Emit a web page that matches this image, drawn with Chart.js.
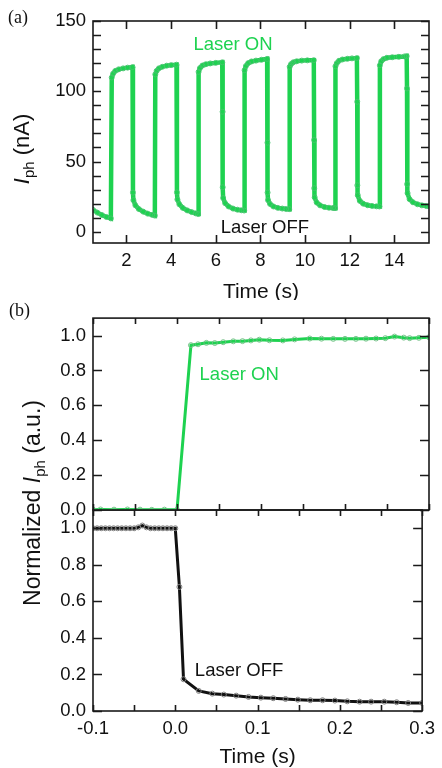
<!DOCTYPE html>
<html>
<head>
<meta charset="utf-8">
<script src="https://cdn.jsdelivr.net/npm/chart.js@4.4.0/dist/chart.umd.min.js"></script>
<style>
  html, body { margin: 0; padding: 0; background: #fff; }
  .caja { position: absolute; left: 0; width: 442px; }
</style>
</head>
<body>
<div class="caja" style="top:0;height:300px"><canvas id="graficoA"></canvas></div>
<div class="caja" style="top:300px;height:468px"><canvas id="graficoOff"></canvas></div>
<div class="caja" style="top:300px;height:230px"><canvas id="graficoOn"></canvas></div>
<script>
// (a) photocurrent, laser switched on/off
var tiempoA = [
  0.5, 0.7, 0.9, 1.1, 1.3,
  1.34, 1.4, 1.5, 1.65, 1.85, 2.05, 2.27,
  2.29, 2.31, 2.4, 2.55, 2.75, 2.95, 3.15, 3.27,
  3.29, 3.35, 3.45, 3.6, 3.8, 4.0, 4.24,
  4.26, 4.28, 4.37, 4.52, 4.72, 4.92, 5.1, 5.21,
  5.23, 5.29, 5.4, 5.55, 5.75, 6.0, 6.29,
  6.305, 6.31, 6.33, 6.42, 6.57, 6.77, 6.97, 7.15, 7.27,
  7.29, 7.35, 7.45, 7.6, 7.8, 8.05, 8.3,
  8.315, 8.32, 8.34, 8.43, 8.58, 8.78, 8.98, 9.15, 9.29,
  9.31, 9.37, 9.47, 9.62, 9.85, 10.1, 10.39,
  10.405, 10.41, 10.43, 10.52, 10.67, 10.87, 11.07, 11.25, 11.34,
  11.36, 11.42, 11.52, 11.67, 11.9, 12.1, 12.32,
  12.335, 12.34, 12.36, 12.45, 12.6, 12.8, 13.0, 13.2, 13.33,
  13.35, 13.41, 13.51, 13.66, 13.9, 14.2, 14.45, 14.55,
  14.565, 14.57, 14.59, 14.68, 14.83, 15.03, 15.23, 15.43, 15.55
];
var corrienteA = [
  15.6, 13.6, 11.9, 10.5, 9.5,
  109.8, 112.5, 114.5, 115.6, 116.3, 116.8, 117.2,
  27.9, 22.5, 18.8, 16.2, 14.3, 12.9, 12.0, 11.5,
  112.0, 114.5, 116.3, 117.4, 118.2, 118.6, 118.9,
  28.0, 23.0, 19.5, 17.0, 15.2, 14.0, 13.1, 12.6,
  113.8, 116.5, 118.3, 119.2, 119.8, 120.2, 120.6,
  85.4, 31.7, 24.0, 20.3, 18.0, 16.5, 15.7, 15.3, 15.1,
  115.0, 118.0, 120.0, 121.2, 121.8, 122.4, 123.0,
  63.4, 27.9, 22.5, 19.8, 18.0, 17.0, 16.5, 16.2, 16.1,
  117.4, 119.3, 120.6, 121.3, 121.8, 122.0, 122.1,
  65.3, 31.0, 24.5, 20.8, 18.8, 17.6, 17.1, 16.9, 16.8,
  117.8, 120.0, 121.7, 122.6, 123.1, 123.4, 123.6,
  92.5, 33.1, 26.0, 22.0, 20.0, 18.9, 18.4, 18.1, 18.0,
  118.5, 121.3, 122.9, 123.8, 124.2, 124.5, 124.8, 125.0,
  102.0, 33.9, 27.5, 23.2, 21.0, 19.6, 18.8, 18.3, 18.2
];
var ticksXA = [2, 4, 6, 8, 10, 12, 14];
var ticksYA = [0, 10, 20, 30, 40, 50, 60, 70, 80, 90, 100, 110, 120, 130, 140, 150];
var etiquetasYA = [0, 50, 100, 150];

// (b) normalized rise and decay
var tiempoOn = [-0.1, -0.091, -0.075, -0.059, -0.044, -0.03, -0.015, 0,
  0.0166, 0.025, 0.035, 0.045, 0.055, 0.067, 0.078, 0.088, 0.098, 0.11, 0.126,
  0.14, 0.158, 0.172, 0.186, 0.2, 0.213, 0.225, 0.237, 0.248, 0.259, 0.27, 0.277, 0.288, 0.3];
var normOn = [0.002, 0.003, 0.002, 0.003, 0.002, 0.001, 0.002, 0.001,
  0.945, 0.95, 0.958, 0.957, 0.962, 0.967, 0.968, 0.972, 0.976, 0.973, 0.972,
  0.978, 0.983, 0.982, 0.981, 0.981, 0.981, 0.982, 0.983, 0.985, 0.994, 0.988, 0.985, 0.987, 0.99];
var tiempoOff = [-0.1, -0.095, -0.09, -0.085, -0.08, -0.075, -0.07, -0.065, -0.06, -0.055, -0.05,
  -0.045, -0.04, -0.035, -0.03, -0.025, -0.02, -0.015, -0.01, -0.005, 0,
  0.005, 0.01, 0.0285, 0.045, 0.059, 0.074, 0.089, 0.104, 0.119, 0.134, 0.149,
  0.164, 0.179, 0.194, 0.209, 0.224, 0.238, 0.254, 0.269, 0.283, 0.3];
var normOff = [1, 1, 1, 1, 1, 1, 1, 1, 1, 1, 1,
  1.005, 1.015, 1.005, 1, 1, 1, 1, 1, 1, 1,
  0.679, 0.174, 0.11, 0.095, 0.09, 0.084, 0.077, 0.073, 0.07, 0.066, 0.062,
  0.059, 0.059, 0.057, 0.053, 0.051, 0.051, 0.051, 0.048, 0.044, 0.044];
var ticksXB = [-0.1, -0.05, 0, 0.05, 0.1, 0.15, 0.2, 0.25, 0.3];
var etiquetasXB = [-0.1, 0, 0.1, 0.2, 0.3];
var ticksYB = [0, 0.2, 0.4, 0.6, 0.8, 1.0];

var verde = "rgb(30, 210, 80)";
var fuente = "Arial, 'Liberation Sans', sans-serif";

function puntos (xs, ys) {
  var datos = [];
  for (var i = 0; i < xs.length; i++) {
    datos.push({ x: xs[i], y: ys[i] });
  }
  return datos;
}

function esta (lista, v) {
  for (var i = 0; i < lista.length; i++) {
    if (Math.abs(lista[i] - v) < 1e-9) return true;
  }
  return false;
}

// axis with fixed tick list, labels only where asked
function eje (min, max, lista, etiquetas, decimales, tam, mostrar) {
  return {
    type: "linear",
    min: min,
    max: max,
    grid: { display: false, drawTicks: false },
    border: { display: false },
    afterBuildTicks: function (s) {
      s.ticks = lista.map(function (v) { return { value: v }; });
    },
    afterFit: function (s) {
      if (s.isHorizontal()) s.height = tam; else s.width = tam;
    },
    ticks: {
      display: mostrar,
      autoSkip: false,
      maxRotation: 0,
      padding: 7,
      color: "#111",
      font: { family: fuente, size: 18.5 },
      callback: function (v) {
        return esta(etiquetas, v) ? v.toFixed(decimales) : "";
      }
    }
  };
}

// box, inward ticks, titles and notes
var marco = {
  id: "marco",
  afterDraw: function (chart, args, o) {
    var ctx = chart.ctx;
    var a = chart.chartArea;
    var sx = chart.scales.x;
    var sy = chart.scales.y;
    ctx.save();
    ctx.strokeStyle = "#1a1a1a";
    ctx.lineWidth = 1.6;
    ctx.beginPath();
    sx.ticks.forEach(function (t) {
      var px = Math.round(sx.getPixelForValue(t.value)) + 0.5;
      ctx.moveTo(px, a.bottom); ctx.lineTo(px, a.bottom - o.largoX);
      ctx.moveTo(px, a.top); ctx.lineTo(px, a.top + o.largoX);
    });
    sy.ticks.forEach(function (t) {
      var py = Math.round(sy.getPixelForValue(t.value)) + 0.5;
      ctx.moveTo(a.left, py); ctx.lineTo(a.left + o.largoY, py);
      ctx.moveTo(a.right, py); ctx.lineTo(a.right - o.largoY, py);
    });
    ctx.stroke();
    ctx.strokeRect(a.left, a.top, a.right - a.left, a.bottom - a.top);

    ctx.textAlign = "center";
    ctx.textBaseline = "middle";
    (o.notas || []).forEach(function (n) {
      ctx.font = "18.5px " + fuente;
      ctx.fillStyle = n.color;
      ctx.fillText(n.texto, sx.getPixelForValue(n.x), sy.getPixelForValue(n.y));
    });

    ctx.textBaseline = "alphabetic";
    if (o.tituloX) {
      ctx.font = "21px " + fuente;
      ctx.fillStyle = "#111";
      ctx.fillText(o.tituloX, (a.left + a.right) / 2, o.tituloXBase);
    }
    if (o.panel) {
      ctx.textAlign = "left";
      ctx.font = "18px 'Liberation Serif', 'Times New Roman', serif";
      ctx.fillStyle = "#111";
      ctx.fillText(o.panel, o.panelX, o.panelY);
    }
    if (o.tituloY) {
      var partes = o.tituloY;
      var total = 0;
      partes.forEach(function (p) { ctx.font = p.f; total += ctx.measureText(p.t).width; });
      ctx.translate(o.tituloYX, o.tituloYC);
      ctx.rotate(-Math.PI / 2);
      ctx.textAlign = "left";
      ctx.fillStyle = "#111";
      var pos = -total / 2;
      partes.forEach(function (p) {
        ctx.font = p.f;
        ctx.fillText(p.t, pos, p.dy || 0);
        pos += ctx.measureText(p.t).width;
      });
    }
    ctx.restore();
  }
};

var base = {
  responsive: true,
  maintainAspectRatio: false,
  animation: false,
  events: [],
  plugins: { legend: { display: false }, tooltip: { enabled: false } }
};

function opciones (escalas, padding, marcoOpts) {
  var op = Object.assign({}, base);
  op.layout = { padding: padding };
  op.scales = escalas;
  op.plugins = Object.assign({}, base.plugins, { marco: marcoOpts });
  return op;
}

// chart (a)
new Chart(document.getElementById("graficoA"), {
  type: "line",
  data: {
    datasets: [{
      data: puntos(tiempoA, corrienteA),
      borderColor: verde,
      borderWidth: 4.5,
      pointRadius: 2.5,
      pointBorderWidth: 1,
      pointBorderColor: "rgba(70, 195, 110, 0.9)",
      pointBackgroundColor: "rgba(0,0,0,0)",
      tension: 0
    }]
  },
  options: opciones({
    x: eje(0.5, 15.55, ticksXA, ticksXA, 0, 57, true),
    y: eje(-8, 150, ticksYA, etiquetasYA, 0, 93, true)
  }, { top: 21, right: 13, left: 0, bottom: 0 }, {
    largoX: 8, largoY: 8,
    notas: [
      { texto: "Laser ON", x: 6.77, y: 132.7, color: verde },
      { texto: "Laser OFF", x: 8.2, y: 2.8, color: "#111" }
    ],
    tituloX: "Time (s)", tituloXBase: 298,
    panel: "(a)", panelX: 8, panelY: 23,
    tituloY: [
      { t: "I", f: "italic 22px " + fuente },
      { t: "ph", f: "15px " + fuente, dy: 5 },
      { t: " (nA)", f: "22px " + fuente }
    ],
    tituloYX: 29, tituloYC: 149
  }),
  plugins: [marco]
});

// chart (b), lower part: laser off
new Chart(document.getElementById("graficoOff"), {
  type: "line",
  data: {
    datasets: [{
      data: puntos(tiempoOff, normOff),
      borderColor: "#111",
      borderWidth: 3,
      pointRadius: 2.5,
      pointBorderWidth: 1,
      pointBorderColor: "#808080",
      pointBackgroundColor: "rgba(0,0,0,0)",
      tension: 0
    }]
  },
  options: opciones({
    x: eje(-0.1, 0.3, ticksXB, etiquetasXB, 1, 57, true),
    y: eje(0, 1.1, ticksYB, ticksYB, 1, 93, true)
  }, { top: 210, right: 13, left: 0, bottom: 0 }, {
    largoX: 6, largoY: 9,
    notas: [
      { texto: "Laser OFF", x: 0.0775, y: 0.218, color: "#111" }
    ],
    tituloX: "Time (s)", tituloXBase: 463,
    tituloY: [
      { t: "Normalized ", f: "23px " + fuente },
      { t: "I", f: "italic 23px " + fuente },
      { t: "ph", f: "15px " + fuente, dy: 5 },
      { t: " (a.u.)", f: "23px " + fuente }
    ],
    tituloYX: 40, tituloYC: 203
  }),
  plugins: [marco]
});

// chart (b), upper part: laser on
new Chart(document.getElementById("graficoOn"), {
  type: "line",
  data: {
    datasets: [{
      data: puntos(tiempoOn, normOn),
      borderColor: verde,
      borderWidth: 3,
      pointRadius: 2.5,
      pointBorderWidth: 1,
      pointBorderColor: "rgba(110, 190, 130, 0.9)",
      pointBackgroundColor: "rgba(0,0,0,0)",
      tension: 0
    }]
  },
  options: opciones({
    x: eje(-0.1, 0.3, ticksXB, [], 1, 20, false),
    y: eje(0, 1.1, ticksYB, ticksYB, 1, 93, true)
  }, { top: 10, right: 13, left: 0, bottom: 0 }, {
    largoX: 6, largoY: 9,
    notas: [
      { texto: "Laser ON", x: 0.074, y: 0.775, color: verde }
    ],
    panel: "(b)", panelX: 9, panelY: 16
  }),
  plugins: [marco]
});
</script>
</body>
</html>
